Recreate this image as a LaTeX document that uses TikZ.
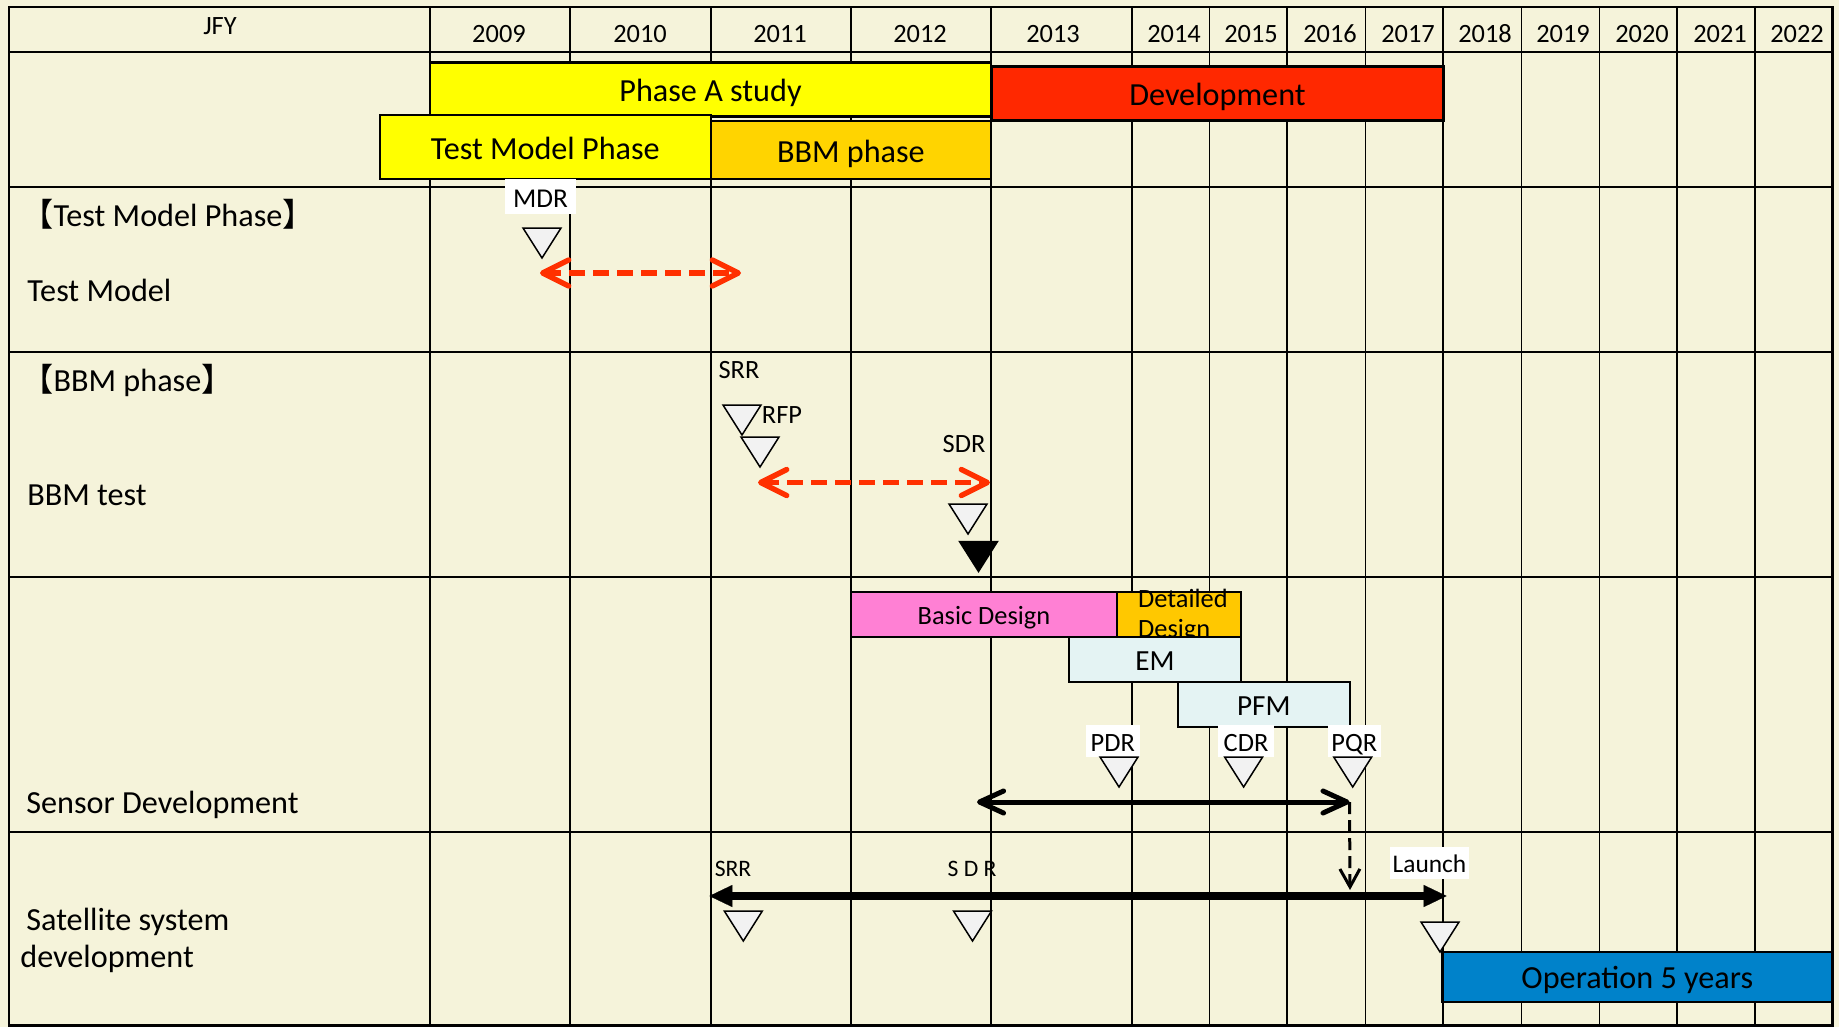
\documentclass[tikz,border=0pt]{standalone}
\usepackage{fontspec}
\setmainfont{Carlito}
\newfontfamily\cjk{Noto Sans CJK JP}
\usetikzlibrary{arrows.meta}
\definecolor{bg}{RGB}{245,243,218}
\definecolor{ylw}{RGB}{255,255,0}
\definecolor{bbmgold}{RGB}{255,212,0}
\definecolor{devred}{RGB}{255,40,0}
\definecolor{arrred}{RGB}{255,48,0}
\definecolor{pinkbar}{RGB}{255,128,212}
\definecolor{detgold}{RGB}{255,200,0}
\definecolor{paleblue}{RGB}{228,243,243}
\definecolor{opblue}{RGB}{0,130,202}
\definecolor{trigray}{RGB}{242,242,242}
\newcommand{\bigf}{\fontsize{16.1pt}{18pt}\selectfont}
\newcommand{\midf}{\fontsize{14.6pt}{17pt}\selectfont}
\newcommand{\smallf}{\fontsize{13.2pt}{15pt}\selectfont}
\newcommand{\tinyf}{\fontsize{11.8pt}{14pt}\selectfont}
\newcommand{\ms}[3][trigray]{\draw[milestone,fill=#1] (#2-19,#3) -- (#2+19,#3) -- (#2,#3+30) -- cycle;}
\begin{document}
\begin{tikzpicture}[x=0.5pt,y=-0.5pt,
  gridv/.style={line width=0.9pt,black},
  gridh/.style={line width=1.2pt,black},
  bar/.style={draw=black,line width=1.2pt,inner sep=0pt,font=\bigf,text height=12.2pt,text depth=0pt},
  smallbar/.style={bar,font=\smallf,text height=10.2pt,line width=1pt},
  midbar/.style={bar,font=\midf,text height=11.2pt,line width=1pt},
  tag/.style={fill=white,inner sep=0pt,font=\smallf,text height=10.2pt,text depth=0pt},
  plain/.style={inner sep=0pt,font=\smallf,anchor=base},
  rowlabel/.style={inner sep=0pt,anchor=base west,font=\bigf},
  milestone/.style={draw=black,line width=0.75pt,line join=miter},
  reddash/.style={draw=arrred,line width=2.7pt,dash pattern=on 8pt off 4pt,
     arrows={Straight Barb[length=13pt,width=13pt,round]-Straight Barb[length=13pt,width=13pt,round]}},
  blackarrow/.style={draw=black,line width=2.5pt,
     arrows={Straight Barb[length=12pt,width=11pt,round]-Straight Barb[length=12pt,width=11pt,round]}},
  dropdash/.style={draw=black,line width=1.5pt,dash pattern=on 6pt off 3pt,
     arrows={-Straight Barb[length=9pt,width=10pt]}},
  satarrow/.style={draw=black,line width=4pt,
     arrows={Triangle[length=11.5pt,width=11pt,line width=0.1pt]-Triangle[length=11.5pt,width=11pt,line width=0.1pt]}}
]
\useasboundingbox (0,0) rectangle (1839,1027);
\fill[bg] (0,0) rectangle (1839,1027);
% grid
\foreach \x in {430.3,570,710.7,851,991.3,1131.7,1209.5,1287,1365.5,1443.3,1521.4,1599.4,1677.3,1754.7}
  \draw[gridv] (\x,7) -- (\x,1025.5);
\foreach \y in {52,187,352,577,832}
  \draw[gridh] (9,\y) -- (1832.5,\y);
\draw[gridh] (9,7) rectangle (1832.5,1025.5);
% header
\node[plain] (jfy) at (220,35) {JFY};
\foreach \yr/\cx in {2009/499,2010/640,2011/780,2012/920,2013/1053,2014/1174,2015/1251,2016/1330,2017/1408,2018/1485,2019/1563,2020/1642,2021/1720,2022/1797}
  \node[plain] (y\yr) at (\cx,42.5) {\yr};
% phase bars
\node[bar,fill=ylw,minimum width=280.5pt,minimum height=27pt] (phaseA) at (710.5,89.7) {Phase A study};
\node[bar,fill=devred,minimum width=225.95pt,minimum height=27pt] (dev) at (1217.45,93.7) {Development};
\node[bar,fill=ylw,minimum width=165.35pt,minimum height=32pt] (tmp) at (545.35,147) {Test Model Phase};
\node[bar,fill=bbmgold,minimum width=140.15pt,minimum height=29pt] (bbm) at (850.85,150) {BBM phase};
% row labels
\node[rowlabel] (tmpHead) at (21,226.5) {{\cjk 【}Test Model Phase{\cjk 】}};
\node[rowlabel] (tmLabel) at (27,301.5) {Test Model};
\node[rowlabel] (bbmHead) at (21,391.5) {{\cjk 【}BBM phase{\cjk 】}};
\node[rowlabel] (bbmTest) at (27,505.5) {BBM test};
\node[rowlabel] (sensorDev) at (26,813) {Sensor Development};
\node[rowlabel] (satSys) at (26,930) {Satellite system};
\node[rowlabel] (satDev) at (20,967) {development};
% test model phase
\node[tag,minimum width=35.5pt,minimum height=17.5pt,font=\fontsize{13.6pt}{15pt}\selectfont] (mdr) at (540.5,197) {MDR};
\ms{542}{228}
\coordinate (tmL) at (540,273);
\coordinate (tmR) at (741,273);
\draw[reddash] (tmL) -- (tmR);
% BBM phase
\node[plain] (srrA) at (739,378.5) {SRR};
\node[plain] (rfp) at (782,423) {RFP};
\ms{742}{405}
\ms{760}{437}
\node[plain] (sdrA) at (964,452) {SDR};
\coordinate (bbmL) at (758,482.5);
\coordinate (bbmR) at (990,482.5);
\draw[reddash] (bbmL) -- (bbmR);
\ms{968}{504}
\ms[black]{978.5}{541.5}
% sensor development
\node[smallbar,fill=pinkbar,minimum width=132.6pt,minimum height=22.35pt] (basic) at (984,614.35) {Basic Design};
\node[bar,line width=1pt,fill=detgold,minimum width=62.2pt,minimum height=22.35pt] (detail) at (1178.8,614.35) {};
\begin{scope}
  \clip (1116.6,560) rectangle (1241,636);
  \node[inner sep=0pt,anchor=base west,font=\smallf] (detA) at (1137.7,607.5) {Detailed};
  \node[inner sep=0pt,anchor=base west,font=\smallf] (detB) at (1137.7,637.5) {Design};
\end{scope}
\node[midbar,fill=paleblue,minimum width=86pt,minimum height=22.2pt] (em) at (1155,659.5) {EM};
\node[midbar,fill=paleblue,minimum width=85.85pt,minimum height=22.35pt] (pfm) at (1263.85,704.35) {PFM};
\node[tag,minimum width=26.8pt,minimum height=16.35pt] (pdr) at (1112.8,741) {PDR};
\node[tag,minimum width=28pt,minimum height=16.35pt] (cdr) at (1246,741) {CDR};
\node[tag,minimum width=26.75pt,minimum height=16.35pt] (pqr) at (1354.25,741) {PQR};
\ms{1119}{757}
\ms{1243.6}{757}
\ms{1352.7}{757}
\coordinate (senL) at (977,802);
\coordinate (senR) at (1349.5,802);
\draw[blackarrow] (senL) -- (senR);
\coordinate (drop) at (1350,890);
\draw[dropdash] (senR) -- (drop);
% satellite system development
\node[plain,font=\tinyf] (srrB) at (733,876.5) {SRR};
\node[plain,font=\tinyf] (sdrB) at (972,876.5) {S D R};
\node[tag,minimum width=39.5pt,minimum height=16.35pt,font=\fontsize{12.7pt}{15pt}\selectfont,text height=9.8pt] (launch) at (1429.5,863) {Launch};
\coordinate (satL) at (709.3,896);
\coordinate (satR) at (1446.7,896);
\draw[satarrow] (satL) -- (satR);
\ms{743.3}{911}
\ms{972.5}{911}
\ms{1440}{922}
\node[bar,fill=opblue,minimum width=194.75pt,minimum height=25pt] (op) at (1637.25,976.7) {Operation 5 years};
\end{tikzpicture}
\end{document}
